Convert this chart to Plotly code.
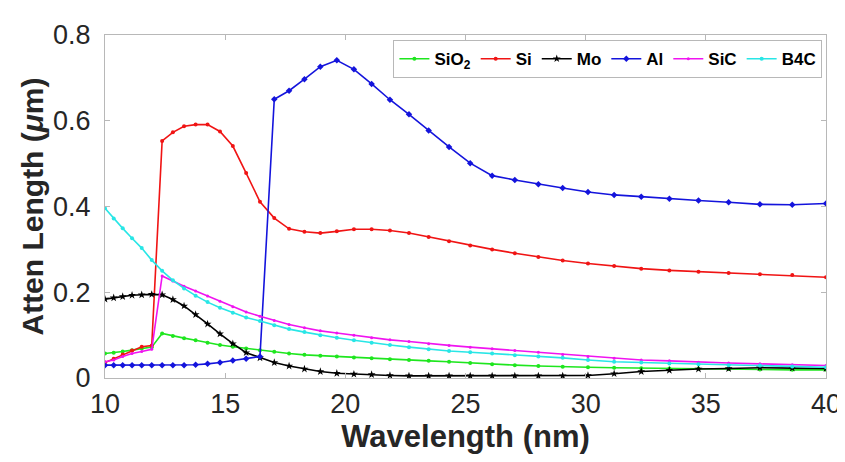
import plotly.graph_objects as go

wavelength = [10.0, 10.362, 10.737, 11.125, 11.528, 11.945, 12.377, 12.825, 13.289, 13.770,
              14.268, 14.784, 15.319, 15.873, 16.448, 17.043, 17.659, 18.298, 18.960, 19.646,
              20.357, 21.094, 21.857, 22.648, 23.467, 24.316, 25.196, 26.108, 27.052, 28.031,
              29.045, 30.096, 31.185, 32.313, 33.482, 34.694, 35.949, 37.250, 38.597, 40.0]

sio2 = [0.057, 0.059, 0.062, 0.065, 0.069, 0.072, 0.104, 0.098, 0.093, 0.088,
        0.082, 0.077, 0.073, 0.069, 0.065, 0.061, 0.057, 0.054, 0.052, 0.050,
        0.048, 0.046, 0.044, 0.042, 0.040, 0.038, 0.035, 0.032, 0.030, 0.028,
        0.026, 0.025, 0.024, 0.023, 0.022, 0.022, 0.021, 0.020, 0.019, 0.019]

si = [0.036, 0.045, 0.055, 0.064, 0.073, 0.076, 0.553, 0.573, 0.587, 0.591,
      0.591, 0.575, 0.541, 0.478, 0.411, 0.373, 0.348, 0.341, 0.338, 0.342,
      0.347, 0.347, 0.344, 0.338, 0.329, 0.319, 0.309, 0.300, 0.291, 0.282,
      0.274, 0.267, 0.261, 0.255, 0.251, 0.248, 0.245, 0.242, 0.240, 0.235]

mo = [0.184, 0.187, 0.190, 0.193, 0.194, 0.195, 0.194, 0.183, 0.168, 0.148,
      0.126, 0.103, 0.080, 0.059, 0.047, 0.036, 0.028, 0.021, 0.015, 0.011,
      0.009, 0.008, 0.006, 0.005, 0.005, 0.005, 0.005, 0.005, 0.005, 0.005,
      0.005, 0.006, 0.010, 0.015, 0.018, 0.021, 0.022, 0.024, 0.023, 0.022]

al = [0.030, 0.030, 0.030, 0.030, 0.030, 0.030, 0.030, 0.030, 0.030, 0.031,
      0.033, 0.036, 0.041, 0.045, 0.050, 0.650, 0.670, 0.697, 0.726, 0.741,
      0.720, 0.686, 0.649, 0.615, 0.577, 0.539, 0.501, 0.472, 0.462, 0.452,
      0.443, 0.434, 0.427, 0.423, 0.418, 0.414, 0.410, 0.405, 0.404, 0.407]

sic = [0.038, 0.042, 0.050, 0.057, 0.062, 0.067, 0.238, 0.226, 0.214, 0.203,
       0.191, 0.179, 0.166, 0.154, 0.144, 0.134, 0.125, 0.117, 0.110, 0.105,
       0.100, 0.094, 0.089, 0.085, 0.080, 0.076, 0.072, 0.068, 0.064, 0.060,
       0.055, 0.050, 0.046, 0.042, 0.040, 0.037, 0.035, 0.033, 0.031, 0.029]

b4c = [0.396, 0.372, 0.349, 0.326, 0.303, 0.275, 0.250, 0.228, 0.209, 0.192,
       0.177, 0.164, 0.152, 0.141, 0.133, 0.123, 0.114, 0.107, 0.100, 0.094,
       0.088, 0.082, 0.077, 0.072, 0.067, 0.063, 0.060, 0.057, 0.053, 0.050,
       0.047, 0.042, 0.038, 0.036, 0.034, 0.032, 0.030, 0.029, 0.027, 0.025]

series = [
    ("SiO<sub>2</sub>", sio2, "#1ee61e", "circle", 4),
    ("Si", si, "#f01414", "circle", 4),
    ("Mo", mo, "#000000", "star", 6),
    ("Al", al, "#1414dc", "diamond", 5),
    ("SiC", sic, "#f014f0", "circle", 3),
    ("B4C", b4c, "#28e6e6", "circle", 4),
]

fig = go.Figure()
for name, vals, color, sym, size in series:
    fig.add_trace(go.Scatter(
        x=wavelength, y=vals, name="<b>" + name + "</b>", mode="lines+markers",
        line=dict(color=color, width=1.6),
        marker=dict(symbol=sym, size=size, color=color),
    ))

axis_common = dict(
    showline=True, linecolor="#b8b8b8", linewidth=1, mirror="ticks",
    ticks="inside", ticklen=5, tickcolor="#b8b8b8", showgrid=False, zeroline=False,
    tickfont=dict(family="Liberation Sans, Arial, sans-serif", size=27, color="#262626"),
)

fig.update_layout(
    width=845, height=462,
    margin=dict(l=97, r=18, t=20, b=92),
    paper_bgcolor="white", plot_bgcolor="white",
    xaxis=dict(range=[10, 40], dtick=5, tick0=10, ticklabelstandoff=2,
               title=dict(text="<b>Wavelength (nm)</b>", standoff=6,
                          font=dict(family="Liberation Sans, Arial, sans-serif", size=31, color="#262626")),
               **axis_common),
    yaxis=dict(range=[0, 0.8], dtick=0.2, tick0=0, ticklabelstandoff=8,
               title=dict(text="<b>Atten Length (<i>μ</i>m)</b>", standoff=0,
                          font=dict(family="Liberation Sans, Arial, sans-serif", size=30, color="#262626")),
               **axis_common),
    legend=dict(orientation="h", x=0.995, xanchor="right", y=0.985, yanchor="top",
                bgcolor="white", bordercolor="#b8b8b8", borderwidth=1,
                font=dict(family="Liberation Sans, Arial, sans-serif", size=17, color="#000000"),
                itemwidth=30, tracegroupgap=0),
    showlegend=True,
)

fig.write_html("out.html")
